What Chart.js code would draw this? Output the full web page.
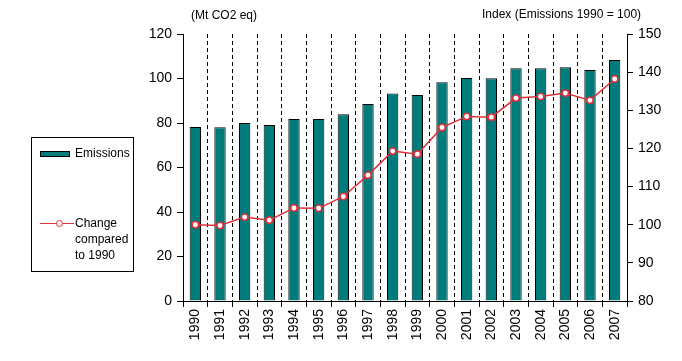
<!DOCTYPE html>
<html><head><meta charset="utf-8">
<script src="https://cdn.jsdelivr.net/npm/chart.js@4/dist/chart.umd.min.js"></script>
<style>
html,body{margin:0;padding:0;background:#fff;}
#wrap{position:relative;width:682px;height:361px;font-family:"Liberation Sans",Arial,sans-serif;color:#000;}
canvas{position:absolute;left:0;top:0;}
.t{position:absolute;font-size:12px;white-space:nowrap;line-height:14px;}
#legend{position:absolute;left:31px;top:137px;width:103px;height:135px;border:1px solid #000;box-sizing:border-box;}
</style></head><body>
<div id="wrap">
<canvas id="c" width="682" height="361"></canvas>
<div class="t" style="left:191px;top:8px;">(Mt CO2 eq)</div>
<div class="t" style="left:482px;top:7px;">Index (Emissions 1990 = 100)</div>
<div id="legend">
  <div style="position:absolute;left:8px;top:13px;width:30px;height:6px;background:#007B7B;border:1px solid #000;box-sizing:border-box;"></div>
  <div class="t" style="left:43px;top:8px;">Emissions</div>
  <div style="position:absolute;left:8px;top:85px;width:34px;height:1px;background:#E0303A;"></div>
  <div style="position:absolute;left:24px;top:82px;width:7px;height:7px;border-radius:50%;background:#fff;border:1px solid #E0303A;box-sizing:border-box;"></div>
  <div class="t" style="left:43px;top:77px;line-height:16px;">Change<br>compared<br>to 1990</div>
</div>
</div>
<script>
const years = ["1990","1991","1992","1993","1994","1995","1996","1997","1998","1999","2000","2001","2002","2003","2004","2005","2006","2007"];
const emissions = [78.2,78.1,80.0,79.1,81.8,81.8,83.9,88.5,93.3,92.6,98.3,100.2,100.1,104.6,104.6,105.1,103.8,108.3];
const indexValues = [100.0,99.8,102.0,101.2,104.4,104.3,107.4,113.0,119.3,118.5,125.5,128.4,128.2,133.2,133.6,134.5,132.6,138.2];
const leftTicks = [0,120,20];
const rightTicks = [80,150,10];

const font = {family:"'Liberation Sans', Arial, sans-serif", size:14};
new Chart(document.getElementById('c'), {
  data: {
    labels: years,
    datasets: [
      {type:'line', data:indexValues, yAxisID:'yR', borderColor:'#E0303A', borderWidth:1.5,
       pointRadius:3.2, pointBackgroundColor:'#fff', pointBorderColor:'#E0303A', pointBorderWidth:1.5,
       tension:0, order:0},
      {type:'bar', data:emissions, yAxisID:'yL', backgroundColor:'#007B7B', borderColor:'#000', borderWidth:1,
       barPercentage:0.46, categoryPercentage:1, order:1}
    ]
  },
  options: {
    responsive:false, animation:false, devicePixelRatio:1,
    layout:{padding:{top:34,left:0,right:0,bottom:0}},
    plugins:{legend:{display:false}, tooltip:{enabled:false}},
    scales:{
      x:{offset:true,
         grid:{offset:true, color:'#000', lineWidth:1, tickBorderDash:[], tickLength:6, drawTicks:true, tickColor:'#000'},
         border:{display:true,color:'#000',width:1, dash:[4,3]},
         ticks:{color:'#000', font:font, minRotation:90, maxRotation:90, autoSkip:false, padding:2},
         afterFit:s=>{s.height=60;}},
      yL:{position:'left', min:leftTicks[0], max:leftTicks[1],
          ticks:{stepSize:leftTicks[2], color:'#000', font:font, padding:5},
          grid:{drawOnChartArea:false, drawTicks:true, tickLength:6, tickColor:'#000'},
          border:{display:true,color:'#000',width:1},
          afterFit:s=>{s.width=183;}},
      yR:{position:'right', min:rightTicks[0], max:rightTicks[1],
          ticks:{stepSize:rightTicks[2], color:'#000', font:font, padding:5},
          grid:{drawOnChartArea:false, drawTicks:true, tickLength:6, tickColor:'#000'},
          border:{display:true,color:'#000',width:1},
          afterFit:s=>{s.width=55;}}
    }
  }
});
</script>
</body></html>
